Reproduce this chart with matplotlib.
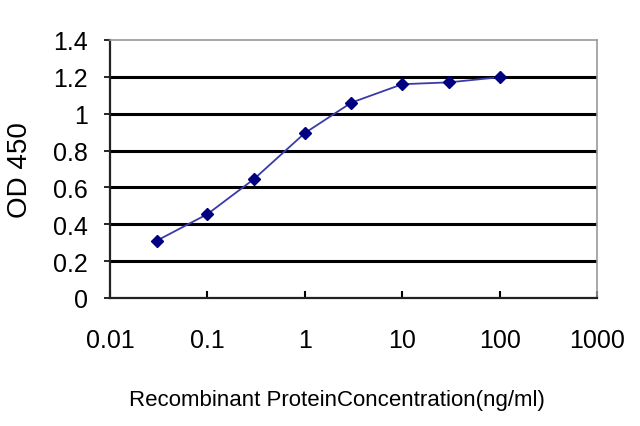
import matplotlib
matplotlib.use("Agg")
import matplotlib.pyplot as plt

# data
conc = [0.03, 0.1, 0.3, 1, 3, 10, 30, 100]
od450 = [0.31, 0.455, 0.645, 0.895, 1.06, 1.16, 1.17, 1.198]
x_ticks = [0.01, 0.1, 1, 10, 100, 1000]
x_labels = ["0.01", "0.1", "1", "10", "100", "1000"]
y_ticks = [0, 0.2, 0.4, 0.6, 0.8, 1.0, 1.2, 1.4]
y_labels = ["0", "0.2", "0.4", "0.6", "0.8", "1", "1.2", "1.4"]

plt.rcParams["font.family"] = ["Liberation Sans", "DejaVu Sans"]

fig = plt.figure(figsize=(6.4, 4.27), dpi=100)
ax = fig.add_axes([0.172, 0.300, 0.761, 0.604])

for yv in y_ticks[1:-1]:
    ax.axhline(yv, color="black", lw=2.2, zorder=1)

ax.plot(conc, od450, color="#3a3aa8", lw=1.3, zorder=2)
ax.plot(conc, od450, ls="none", marker="D", ms=6.5, color="#000080", zorder=3)

ax.set_xscale("log")
ax.set_xlim(0.01, 1000)
ax.set_ylim(0, 1.4)
ax.set_xticks(x_ticks)
ax.set_xticklabels(x_labels)
ax.minorticks_off()
ax.set_yticks(y_ticks)
ax.set_yticklabels(y_labels)

ax.tick_params(axis="x", direction="in", length=5, width=1.5, pad=22, labelsize=18)
ax.tick_params(axis="y", direction="out", length=4, width=1.2, pad=12, labelsize=18)

for s in ["left", "bottom"]:
    ax.spines[s].set_color("#222222")
    ax.spines[s].set_linewidth(1.6)
for s in ["top", "right"]:
    ax.spines[s].set_color("#999999")
    ax.spines[s].set_linewidth(1.2)

ax.set_ylabel("OD 450", fontsize=20)
ax.yaxis.set_label_coords(-0.158, 0.5)
ax.set_xlabel("Recombinant ProteinConcentration(ng/ml)", fontsize=16)
ax.xaxis.set_label_coords(0.466, -0.355)

fig.savefig("out.png", dpi=100)
